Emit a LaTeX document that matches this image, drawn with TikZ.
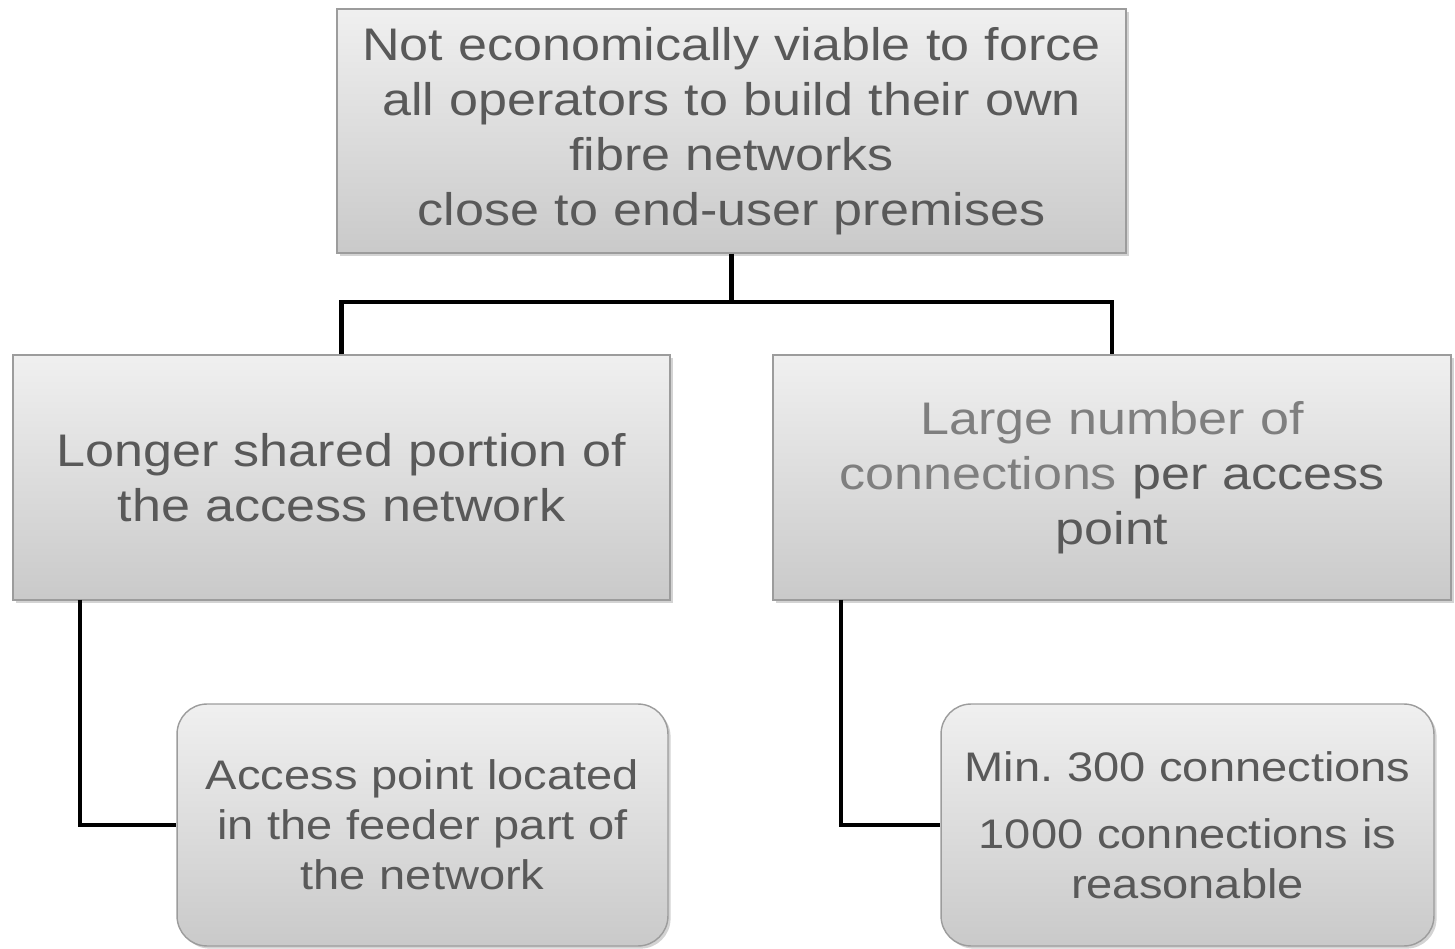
\documentclass[tikz,border=0pt]{standalone}
\usepackage{fontspec}
\setmainfont[FakeStretch=1.14]{Liberation Sans}
\usetikzlibrary{shadows}

\definecolor{txtgray}{HTML}{595959}
\definecolor{lightgray}{HTML}{7F7F7F}
\definecolor{boxline}{HTML}{9C9C9C}

\tikzset{
	box/.style={draw=boxline, line width=0.8pt, top color=black!6, bottom color=black!21,
		drop shadow={shadow xshift=1.5pt, shadow yshift=-1.5pt, opacity=0.35},
		align=center, text=txtgray, inner sep=0pt, font=\fontsize{26}{31.2}\selectfont},
	leafbox/.style={box, rounded corners=0.6cm, font=\fontsize{23.5}{28.4}\selectfont},
	conn/.style={line width=2.4pt, black}
}

\begin{document}
\begin{tikzpicture}[x=0.02cm, y=-0.02cm]
				\useasboundingbox (0,0) rectangle (1455,949);

				% connectors first, boxes go over them
				\coordinate (fork) at (731.5,302);
				\coordinate (elbowL) at (80,600);
				\coordinate (elbowR) at (841,600);

				% top box
				\node[box, minimum width=15.78cm, minimum height=4.88cm, text width=15.6cm] (top) at (731.5,131)
					{Not economically viable to force\\ all operators to build their own\\ fibre networks\\ close to end-user premises};

				% second level
				\node[box, minimum width=13.14cm, minimum height=4.9cm, text width=13cm] (shared) at (341.5,477.5)
					{Longer shared portion of\\ the access network};
				\node[box, minimum width=13.56cm, minimum height=4.9cm, text width=13.4cm] (number) at (1112,477.5)
					{\textcolor{lightgray}{Large number of}\\ \textcolor{lightgray}{connections} per access\\ point};

				\draw[conn] (top.south) -- (fork);
				\draw[conn] (shared.north) |- (fork) -| (number.north);

				% third level
				\node[leafbox, minimum width=9.82cm, minimum height=4.84cm, text width=9.7cm] (feeder) at (422.5,825)
					{Access point located\\ in the feeder part of\\ the network};
				\node[leafbox, minimum width=9.86cm, minimum height=4.84cm, text width=9.7cm] (minimum) at (1187.5,825)
					{Min.\ 300 connections\\[10pt] 1000 connections is\\ reasonable};

				\draw[conn] (elbowL) |- (feeder.west);
				\draw[conn] (elbowR) |- (minimum.west);
\end{tikzpicture}
\end{document}
